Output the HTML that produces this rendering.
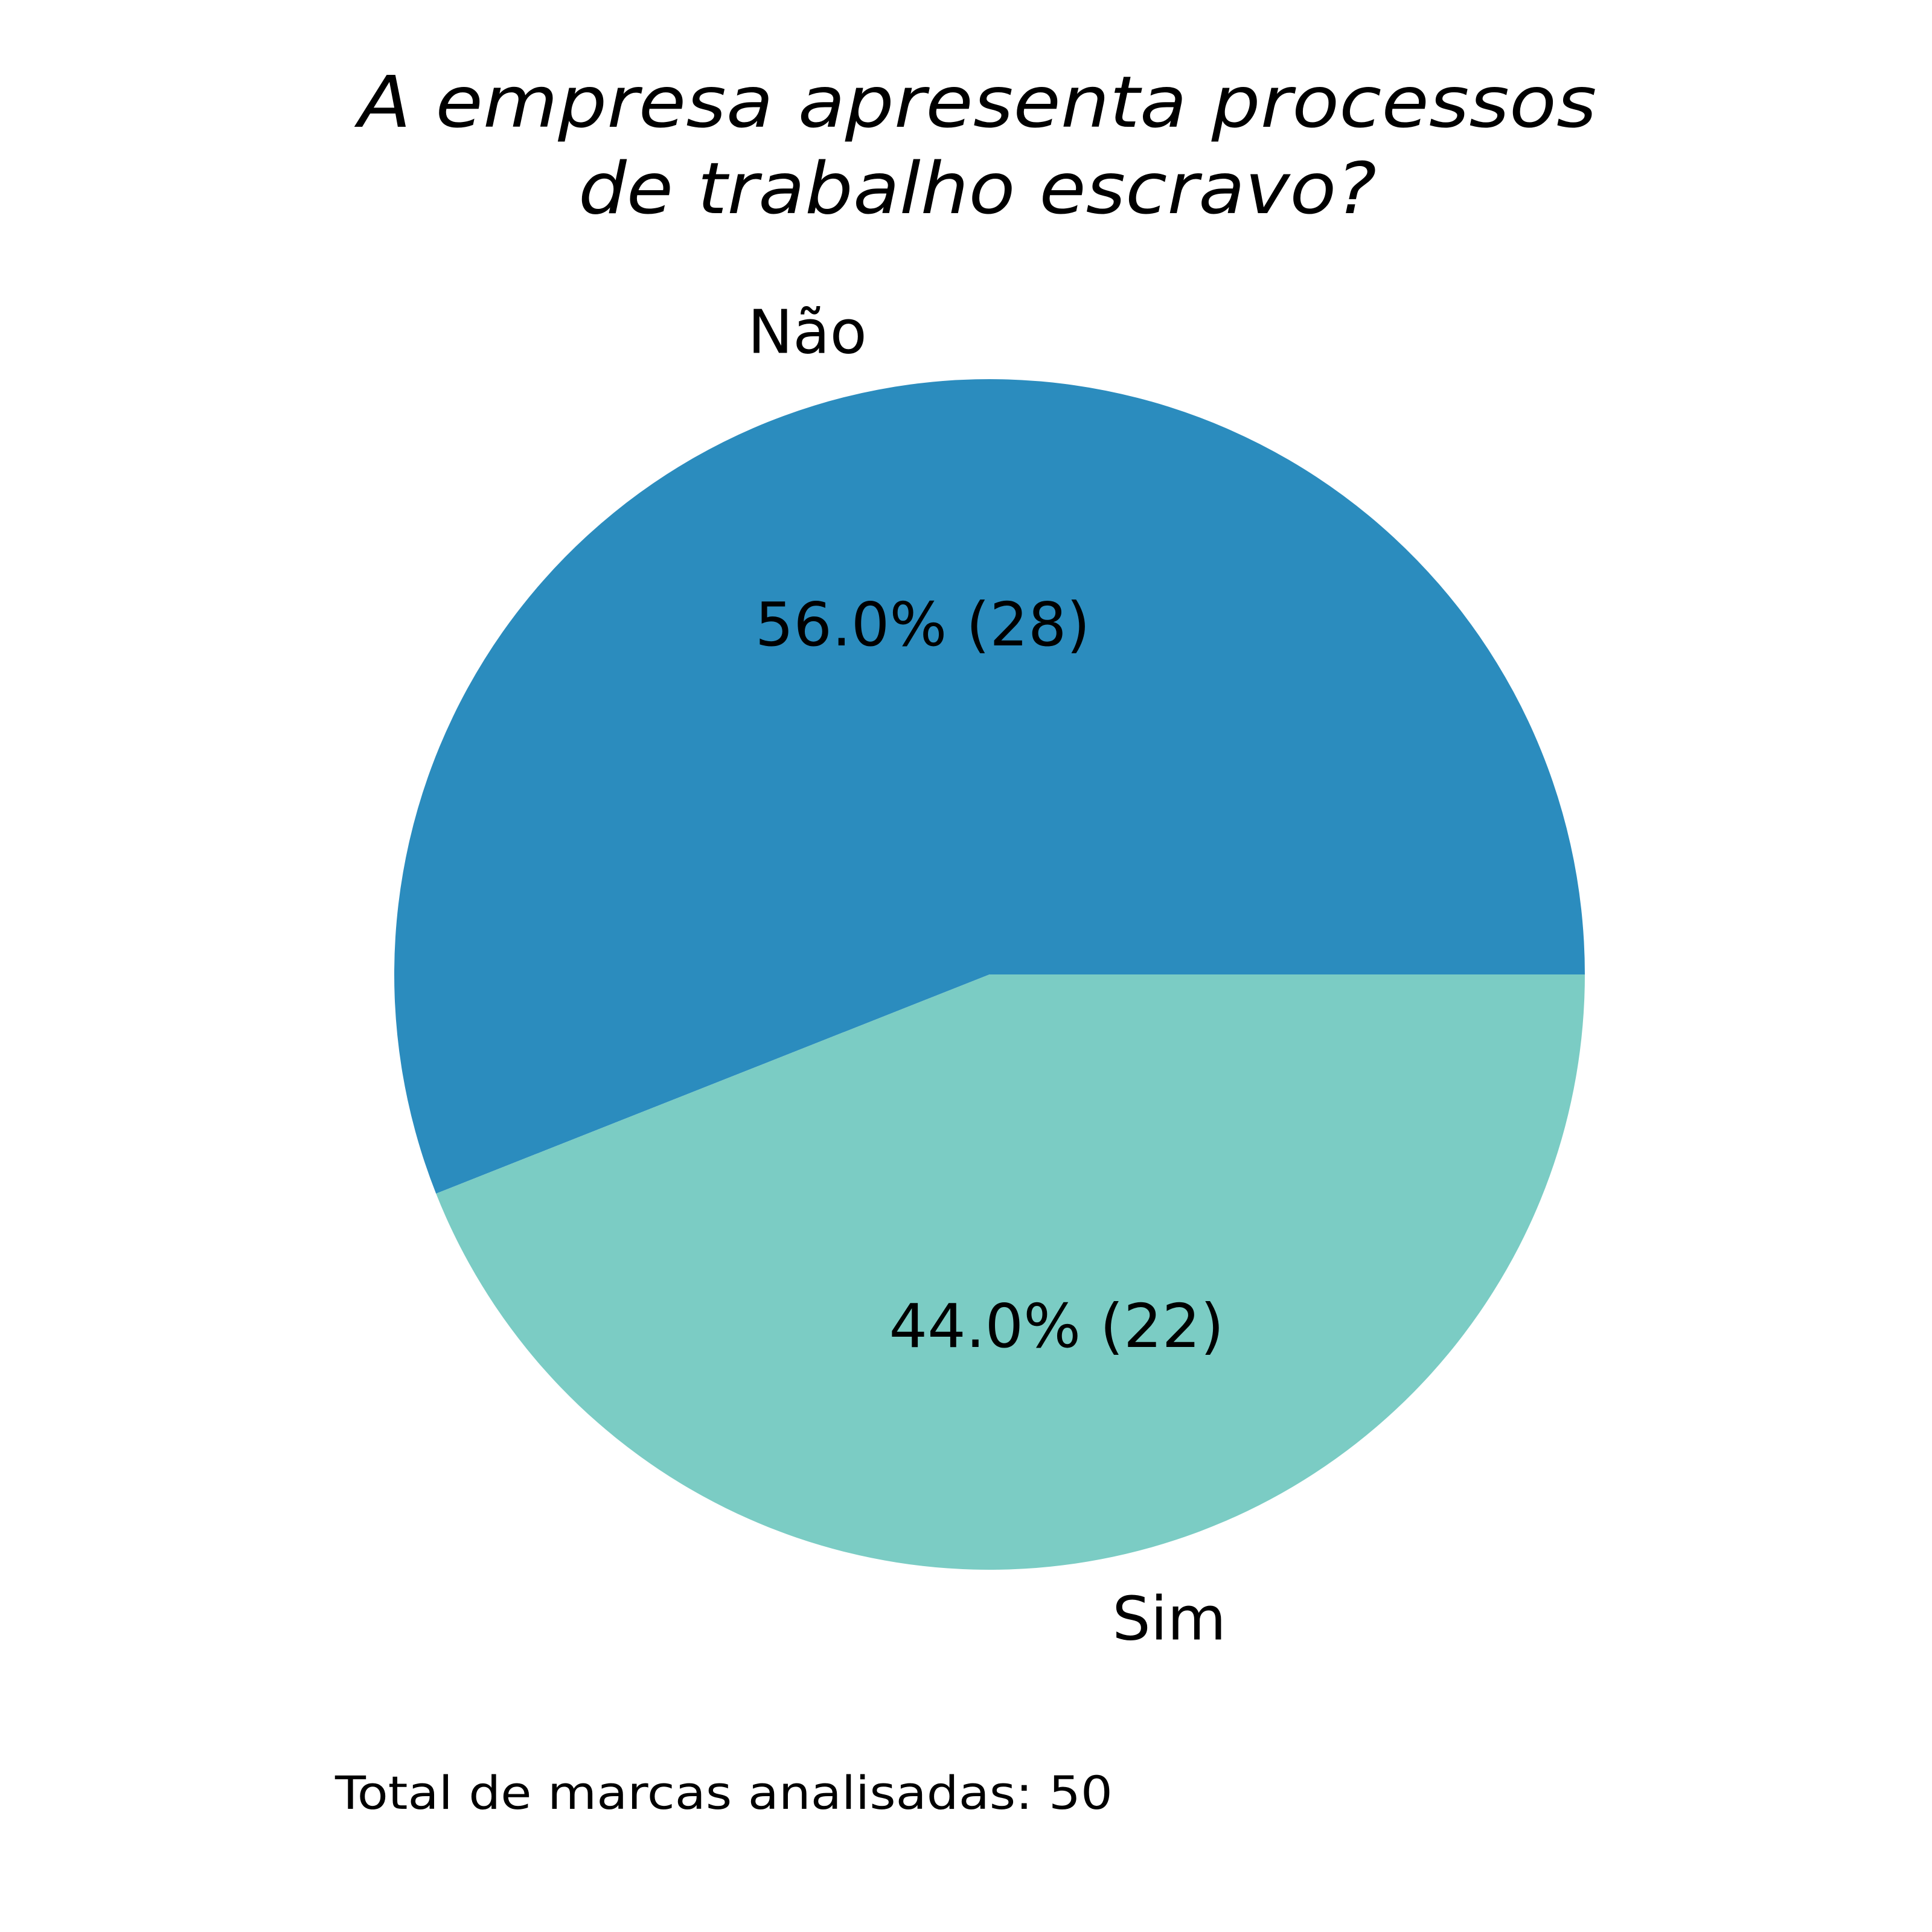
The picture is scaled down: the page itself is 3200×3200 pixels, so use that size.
<!DOCTYPE html>
<html><head><meta charset="utf-8"><style>
html,body{margin:0;padding:0;background:#fff}
svg{display:block}
text{font-family:"DejaVu Sans","Liberation Sans",sans-serif;fill:#000}
</style></head><body>
<svg id="chart" width="3200" height="3200" viewBox="0 0 3200 3200" xmlns="http://www.w3.org/2000/svg">
<rect width="3200" height="3200" fill="#fff"/>
<text x="1619" y="210" font-size="118" font-style="italic" text-anchor="middle" textLength="2051" lengthAdjust="spacingAndGlyphs">A empresa apresenta processos</text>
<text x="1619" y="353" font-size="118" font-style="italic" text-anchor="middle" textLength="1322" lengthAdjust="spacingAndGlyphs">de trabalho escravo?</text>
<g id="slices"></g>
<g id="labels"></g>
<text x="555" y="2996" font-size="76" textLength="1288" lengthAdjust="spacingAndGlyphs">Total de marcas analisadas: 50</text>
</svg>
<script>
const categories = ["Não", "Sim"];
const counts = [28, 22];
const colors = ["#2b8cbe", "#7bccc4"];
const cx = 1639, cy = 1614, r = 986;
const total = counts.reduce((a, b) => a + b, 0);
const NS = "http://www.w3.org/2000/svg";
const gS = document.getElementById("slices"), gL = document.getElementById("labels");
function pt(deg, rr) { const a = deg * Math.PI / 180; return [cx + rr * Math.cos(a), cy - rr * Math.sin(a)]; }
let start = 0;
counts.forEach((v, i) => {
  const sweep = v / total * 360, end = start + sweep;
  const p0 = pt(start, r), p1 = pt(end, r);
  const path = document.createElementNS(NS, "path");
  path.setAttribute("d", `M${cx},${cy} L${p0[0]},${p0[1]} A${r},${r} 0 ${sweep > 180 ? 1 : 0} 0 ${p1[0]},${p1[1]} Z`);
  path.setAttribute("fill", colors[i]);
  
  
  gS.appendChild(path);
  const mid = start + sweep / 2;
  const lp = pt(mid, r * 1.1);
  const t = document.createElementNS(NS, "text");
  t.setAttribute("x", lp[0]); t.setAttribute("y", lp[1] + 36);
  t.setAttribute("font-size", "100");
  t.setAttribute("text-anchor", Math.cos(mid * Math.PI / 180) < 0 ? "end" : "start");
  t.textContent = categories[i];
  
  
  gL.appendChild(t);
  const pp = pt(mid, r * 0.6);
  const t2 = document.createElementNS(NS, "text");
  t2.setAttribute("x", pp[0]); t2.setAttribute("y", pp[1] + 36);
  t2.setAttribute("font-size", "100");
  t2.setAttribute("text-anchor", "middle");
  t2.textContent = (v / total * 100).toFixed(1) + "% (" + v + ")";
  
  
  gL.appendChild(t2);
  start = end;
});
</script>
</body></html>
